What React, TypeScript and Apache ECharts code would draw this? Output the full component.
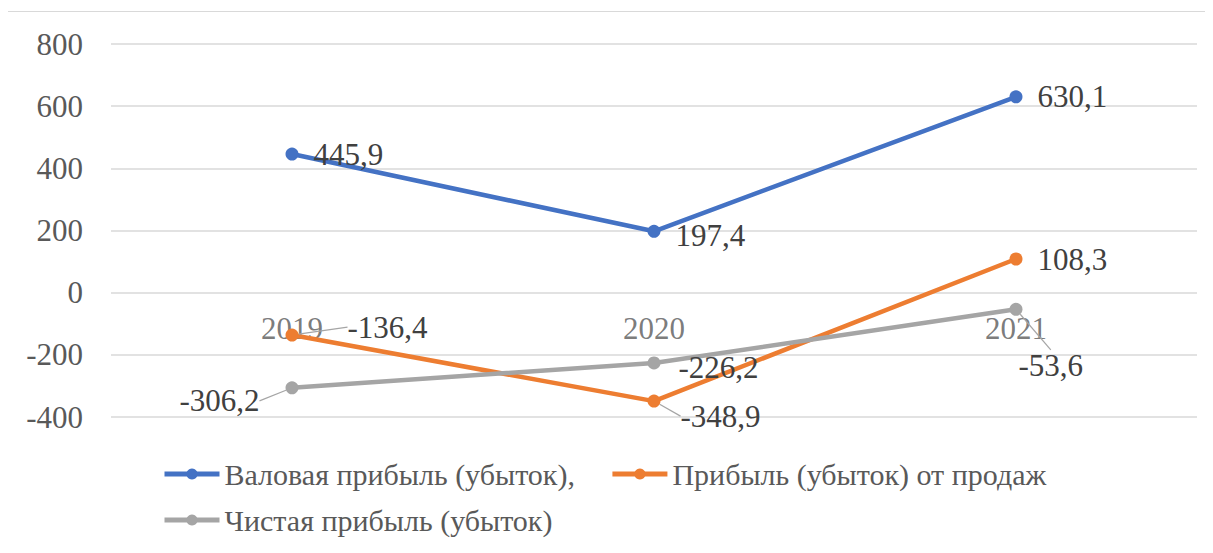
import React, { useEffect, useRef } from "react";
import * as echarts from "echarts";

const years = ["2019", "2020", "2021"];
const grossProfit = [445.9, 197.4, 630.1];
const salesProfit = [-136.4, -348.9, 108.3];
const netProfit = [-306.2, -226.2, -53.6];
const yearAnchor = [0, 0, 0];
const seriesNames = [
  "Валовая прибыль (убыток),",
  "Прибыль (убыток) от продаж",
  "Чистая прибыль (убыток)",
];
const colors = ["#4472C4", "#ED7D31", "#A5A5A5"];

// label nudges (px) per series / point, and whether a leader line is shown
const labelShift = [
  [[0, 0], [0, 4], [0, 0]],
  [[34, -8], [5, 15], [0, 0]],
  [[-11, 13], [3, 5], [-19, 56]],
];
const leaders = [
  [false, false, false],
  [true, true, false],
  [true, false, true],
];
const labelSide = [
  ["right", "right", "right"],
  ["right", "right", "right"],
  ["left", "right", "right"],
];

const fmt = (v: number) => v.toFixed(1).replace(".", ",");
const FONT = "Liberation Serif";

export default function App() {
  const ref = useRef<HTMLDivElement>(null);
  useEffect(() => {
    if (!ref.current) return;
    const chart = echarts.init(ref.current, null, { renderer: "svg" });
    const all = [grossProfit, salesProfit, netProfit];
    const series: any[] = all.map((arr, si) => ({
      name: seriesNames[si],
      type: "line",
      z: 3,
      data: arr.map((v, di) => ({
        value: v,
        label: { position: labelSide[si][di] },
        labelLine: { show: leaders[si][di] },
      })),
      symbol: "circle",
      symbolSize: 13,
      lineStyle: { width: 4.5, color: colors[si] },
      itemStyle: { color: colors[si] },
      label: {
        show: true,
        distance: 15,
        formatter: (p: any) => fmt(p.value),
        color: "#404040",
        fontSize: 31,
        fontFamily: FONT,
      },
      labelLine: {
        show: false,
        lineStyle: { color: "#A5A5A5", width: 1.2 },
      },
      labelLayout: (p: any) => {
        const s = labelShift[si][p.dataIndex];
        return { dx: s[0], dy: s[1] };
      },
    }));
    // category labels sitting on the zero line, as in the reference
    series.push({
      name: "years",
      type: "scatter",
      z: 1,
      silent: true,
      symbolSize: 0,
      data: yearAnchor,
      label: {
        show: true,
        position: "bottom",
        distance: 20,
        formatter: (p: any) => years[p.dataIndex],
        color: "#595959",
        fontSize: 31,
        fontFamily: FONT,
      },
    });
    chart.setOption({
      animation: false,
      backgroundColor: "#fff",
      textStyle: { fontFamily: FONT },
      graphic: [
        {
          type: "rect",
          shape: { x: 0.5, y: 3.5, width: 1220, height: 600 },
          style: { fill: "none", stroke: "#D9D9D9", lineWidth: 1 },
          silent: true,
          z: -1,
        },
      ],
      grid: { left: 104, right: 16, top: 36, bottom: 136 },
      xAxis: {
        type: "category",
        data: years,
        boundaryGap: true,
        axisLine: { show: false },
        axisTick: { show: false },
        axisLabel: { show: false },
      },
      yAxis: {
        type: "value",
        min: -400,
        max: 800,
        interval: 200,
        axisLine: { show: false },
        axisTick: { show: false },
        splitLine: { lineStyle: { color: "#D9D9D9", width: 1.5 } },
        axisLabel: {
          color: "#595959",
          fontSize: 31,
          fontFamily: FONT,
          margin: 28,
        },
      },
      legend: [
        {
          data: [seriesNames[0], seriesNames[1]],
          left: 150,
          top: 446,
          itemWidth: 55,
          itemHeight: 14,
          itemGap: 35,
          lineStyle: { width: 5 },
          textStyle: { color: "#595959", fontSize: 30, fontFamily: FONT },
        },
        {
          data: [seriesNames[2]],
          left: 150,
          top: 492,
          itemWidth: 55,
          itemHeight: 14,
          lineStyle: { width: 5 },
          textStyle: { color: "#595959", fontSize: 30, fontFamily: FONT },
        },
      ],
      series,
    });
    return () => chart.dispose();
  }, []);
  return <div ref={ref} style={{ width: 1206, height: 545, marginLeft: -1 }} />;
}
